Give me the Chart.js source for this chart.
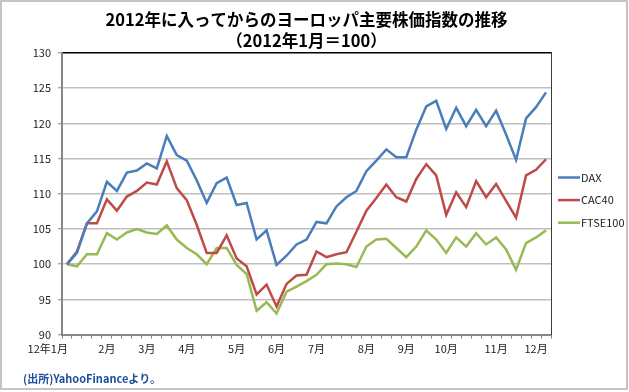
<!DOCTYPE html>
<html>
<head>
<meta charset="utf-8">
<script src="https://cdn.jsdelivr.net/npm/chart.js@4.4.0/dist/chart.umd.min.js"></script>
<style>
	html, body { margin: 0; padding: 0; background: #fff; }
	#wrap { position: relative; width: 629px; height: 392px; }
	#frame { position: absolute; left: 0; top: 0; width: 628px; height: 390px; box-sizing: border-box; border: 2px solid #c4c4c4; }
	#chart { position: absolute; left: 0; top: 0; }
</style>
</head>
<body>
<div id="wrap">
	<div id="frame"></div>
	<canvas id="chart" width="629" height="392"></canvas>
</div>
<script>
// weekly points, month label on the first week of each month
const xLabels = [
	"12年1月", "", "", "", "2月", "", "", "", "3月", "", "", "", "4月", "", "", "", "",
	"5月", "", "", "", "6月", "", "", "", "7月", "", "", "", "", "8月", "", "", "",
	"9月", "", "", "", "10月", "", "", "", "", "11月", "", "", "", "12月", ""
];

const dax = [
	100, 101.6, 105.8, 107.5, 111.7, 110.4, 113.0, 113.3, 114.3, 113.6,
	118.2, 115.5, 114.7, 111.9, 108.7, 111.5, 112.3, 108.4, 108.7, 103.5,
	104.8, 99.9, 101.2, 102.8, 103.5, 106.0, 105.8, 108.2, 109.5, 110.4,
	113.2, 114.7, 116.3, 115.2, 115.2, 119.1, 122.4, 123.2, 119.2, 122.2,
	119.6, 121.9, 119.6, 121.8, 118.4, 114.8, 120.7, 122.3, 124.4
];

const cac40 = [
	100, 101.8, 105.8, 105.8, 109.2, 107.6, 109.6, 110.4, 111.6, 111.3,
	114.6, 110.8, 109.1, 105.6, 101.6, 101.6, 104.1, 100.8, 99.7, 95.7,
	97.1, 94.0, 97.2, 98.4, 98.5, 101.8, 101.0, 101.4, 101.7, 104.6,
	107.6, 109.4, 111.3, 109.5, 108.9, 112.1, 114.2, 112.6, 107.0, 110.2,
	108.1, 111.8, 109.5, 111.4, 109.0, 106.6, 112.6, 113.4, 114.9
];

const ftse100 = [
	100, 99.7, 101.4, 101.4, 104.4, 103.5, 104.5, 105.0, 104.5, 104.3,
	105.5, 103.5, 102.3, 101.4, 100.0, 102.3, 102.3, 99.9, 98.6, 93.4,
	94.6, 93.0, 96.1, 96.8, 97.6, 98.5, 100.0, 100.1, 100.0, 99.6,
	102.5, 103.5, 103.6, 102.3, 101.0, 102.5, 104.8, 103.5, 101.6, 103.8,
	102.5, 104.4, 102.8, 103.8, 102.1, 99.2, 103.0, 103.8, 104.8
];

const yMin = 90;
const yMax = 130;
const yStep = 5;

const jpFont = '"Noto Sans CJK JP", sans-serif';
const axisGray = "#868686";

// legend drawn to the right of the plot, like the Excel one
const sideLegend = {
	id: "sideLegend",
	afterDraw(chart) {
		const { ctx, chartArea } = chart;
		const x = chartArea.right + 7;
		ctx.save();
		ctx.font = "11px " + jpFont;
		ctx.textBaseline = "middle";
		chart.data.datasets.forEach((ds, i) => {
			const y = 177.5 + i * 22.6;
			ctx.strokeStyle = ds.borderColor;
			ctx.lineWidth = ds.borderWidth;
			ctx.beginPath();
			ctx.moveTo(x, y);
			ctx.lineTo(x + 22, y);
			ctx.stroke();
			ctx.fillStyle = "#222";
			ctx.fillText(ds.label, x + 23, y);
		});
		ctx.restore();
	},
};

const ctx = document.getElementById("chart").getContext("2d");

new Chart(ctx, {
	type: "line",
	data: {
		labels: xLabels,
		datasets: [
			{ label: "DAX", data: dax, borderColor: "#4a7ebb", borderWidth: 2.5 },
			{ label: "CAC40", data: cac40, borderColor: "#be4b48", borderWidth: 2.5 },
			{ label: "FTSE100", data: ftse100, borderColor: "#98b954", borderWidth: 2.5 },
		],
	},
	options: {
		responsive: false,
		animation: false,
		devicePixelRatio: 1,
		layout: { padding: { left: 23, right: 78, top: 0, bottom: 0 } },
		elements: {
			point: { radius: 0 },
			line: { tension: 0, fill: false },
		},
		plugins: {
			legend: { display: false },
			tooltip: { enabled: false },
			title: {
				display: true,
				fullSize: false,
				text: ["2012年に入ってからのヨーロッパ主要株価指数の推移", "（2012年1月＝100）"],
				color: "#000",
				font: { family: jpFont, size: 16.5, weight: "bold", lineHeight: 1.3 },
				padding: { top: 9, bottom: 1 },
			},
			subtitle: {
				display: true,
				position: "bottom",
				align: "start",
				text: "(出所)YahooFinanceより。",
				color: "#1f4e9c",
				font: { family: jpFont, size: 11, weight: "bold", lineHeight: 1.2 },
				padding: { top: 12, bottom: 7 },
			},
		},
		scales: {
			x: {
				offset: true,
				grid: {
					offset: true,
					drawOnChartArea: false,
					drawTicks: true,
					tickLength: 4,
					color: axisGray,
					tickColor: axisGray,
				},
				border: { display: true, color: axisGray, width: 2 },
				ticks: {
					autoSkip: false,
					maxRotation: 0,
					padding: 4,
					color: "#222",
					font: { family: jpFont, size: 11, lineHeight: 1.2 },
					// first label sits left of its week in the original
					callback: (value, i) => (i === 0 ? xLabels[0] + "\u3000\u3000\u3000\u2002" : xLabels[i]),
				},
			},
			y: {
				min: yMin,
				max: yMax,
				ticks: {
					stepSize: yStep,
					padding: 7,
					color: "#222",
					font: { family: jpFont, size: 11, lineHeight: 1.2 },
				},
				grid: {
					color: (c) => (c.tick && c.tick.value === yMax ? "#000" : c.tick && c.tick.value === yMin ? axisGray : "#bfbfbf"),
					lineWidth: 1.5,
					tickLength: 4,
					tickColor: axisGray,
					tickWidth: 1,
				},
				border: { display: true, color: axisGray, width: 2 },
				afterFit: (scale) => {
					scale.width = 39;
				},
			},
			y2: {
				position: "right",
				min: yMin,
				max: yMax,
				ticks: { display: false },
				grid: { drawOnChartArea: false, drawTicks: false },
				border: { display: true, color: "#3c3c3c", width: 1 },
			},
		},
	},
	plugins: [sideLegend],
});
</script>
</body>
</html>
